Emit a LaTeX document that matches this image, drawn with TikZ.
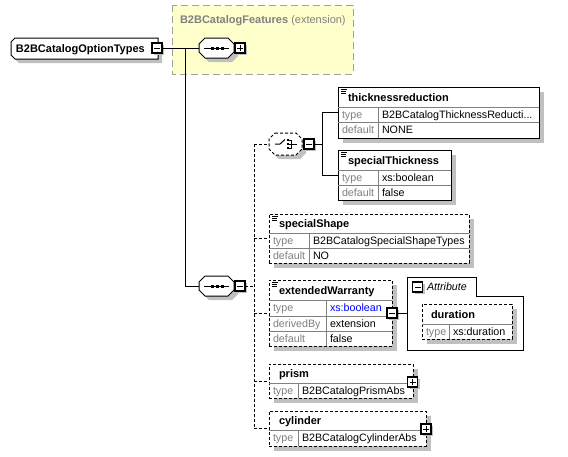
\documentclass[tikz,border=0pt]{standalone}
\usepackage{fontspec}
\setmainfont{Liberation Sans}
\usetikzlibrary{shadows}
\definecolor{shd}{RGB}{192,192,192}
\definecolor{lbl}{RGB}{128,128,128}
\definecolor{yel}{RGB}{255,255,204}
\definecolor{ybord}{RGB}{160,160,160}
\definecolor{xsblue}{RGB}{0,0,255}
% octagonal compositor outline with shadow: x1,y1,x2,y2,chamfer,style
\newcommand\octshape[6]{%
  \fill[shd,shift={(4,4)}] ({#1+#5},#2) -- ({#3-#5},#2) -- (#3,{#2+#5}) -- (#3,{#4-#5}) -- ({#3-#5},#4) -- ({#1+#5},#4) -- (#1,{#4-#5}) -- (#1,{#2+#5}) -- cycle;
  \draw[fill=white,line width=1pt,#6] ({#1+#5},#2) -- ({#3-#5},#2) -- (#3,{#2+#5}) -- (#3,{#4-#5}) -- ({#3-#5},#4) -- ({#1+#5},#4) -- (#1,{#4-#5}) -- (#1,{#2+#5}) -- cycle;}
% documentation icon at x,y
\newcommand\docicon[2]{%
  \draw[line width=0.8pt] (#1,{#2+1}) -- ({#1+6},{#2+1}) (#1,{#2+3}) -- ({#1+5},{#2+3}) (#1,{#2+5}) -- ({#1+5},{#2+5});}
\begin{document}
\begin{tikzpicture}[x=1pt,y=-1pt,
  every node/.style={inner sep=0pt, outer sep=0pt},
  elem/.style={draw=black, line width=1pt, fill=white, anchor=north west,
    drop shadow={shadow xshift=5pt, shadow yshift=-5pt, fill=shd, opacity=1}},
  delem/.style={elem, dash pattern=on 3pt off 2pt},
  ghost/.style={draw=none, fill=none},
  ttl/.style={anchor=west, font=\fontsize{11}{13}\selectfont\bfseries, text height=8pt, text depth=0pt},
  lab/.style={anchor=west, font=\fontsize{10.7}{12}\selectfont, text=lbl, text height=7pt, text depth=0pt},
  val/.style={anchor=west, font=\fontsize{10.7}{12}\selectfont, text height=7pt, text depth=0pt},
  rowline/.style={draw=lbl, line width=1pt},
  conn/.style={draw=black, line width=1pt},
  dconn/.style={conn, dash pattern=on 3pt off 2pt},
  pm/.style={draw=black, line width=1.2pt, fill=white, minimum size=10pt,
    drop shadow={shadow xshift=2pt, shadow yshift=-2pt, fill=shd, opacity=1}},
  minusbox/.style={pm, path picture={\draw[line width=1pt] ([xshift=2pt]path picture bounding box.west) -- ([xshift=-2pt]path picture bounding box.east);}},
  plusbox/.style={pm, path picture={\draw[line width=1pt] ([xshift=2pt]path picture bounding box.west) -- ([xshift=-2pt]path picture bounding box.east) ([yshift=-2pt]path picture bounding box.north) -- ([yshift=2pt]path picture bounding box.south);}}
]
\useasboundingbox (0,0) rectangle (568,456);
\fill[white] (0,0) rectangle (568,456);

% extension base group
\draw[fill=yel, draw=ybord, line width=1pt, dash pattern=on 7pt off 4pt] (172,5) rectangle (353,74);
\node[anchor=west, font=\fontsize{11}{13}\selectfont, text=lbl, text height=8pt, text depth=0pt] (ext) at (180,19) {\textbf{B2BCatalogFeatures} (extension)};

% root element
\fill[shd,shift={(4,4)}] (15,38) -- (158,38) -- (158,59) -- (15,59) -- (11,55) -- (11,42) -- cycle;
\draw[fill=white, line width=1pt] (15,38) -- (158,38) -- (158,59) -- (15,59) -- (11,55) -- (11,42) -- cycle;
\node[ttl] (root) at (16,48.5) {B2BCatalogOptionTypes};
\node[minusbox] (rootpm) at (157,48) {};

% sequence 1 (inherited)
\octshape{199}{38}{234}{58}{6}{}
\node[ghost, minimum width=35pt, minimum height=20pt] (seq1) at (216.5,48) {};
\draw[line width=1pt] (204,48) -- (229,48);
\foreach \q in {212,217,222} \fill (\q-1.5,46.5) rectangle (\q+1.5,49.5);
\node[plusbox] (seq1pm) at (240,48) {};

% sequence 2
\octshape{199}{276}{234}{296}{6}{}
\node[ghost, minimum width=35pt, minimum height=20pt] (seq2) at (216.5,286) {};
\draw[line width=1pt] (204,286) -- (229,286);
\foreach \q in {212,217,222} \fill (\q-1.5,284.5) rectangle (\q+1.5,287.5);
\node[minusbox] (seq2pm) at (240,286) {};

% connectors root
\coordinate (j1) at (185,48);
\draw[conn] (rootpm.east) -- (seq1.west);
\draw[conn] (j1) |- (seq2.west);

% choice
\octshape{269}{133}{302}{155}{6}{dash pattern=on 3pt off 2pt}
\node[ghost, minimum width=33pt, minimum height=22pt] (choice) at (285.5,144) {};
\draw[line width=1pt] (275,144) -- (280,144) -- (285,139.5);
\foreach \q in {140,144,148} \fill (286.5,\q-1.3) rectangle (289,\q+1.3);
\draw[line width=0.9pt] (289,140) -- (291.5,140) -- (291.5,148) -- (289,148) (289,144) -- (297,144);
\node[minusbox] (choicepm) at (309,144) {};

% elements
\node[elem, minimum width=201pt, minimum height=51pt] (thick) at (338,87) {};
\node[elem, minimum width=113pt, minimum height=50pt] (spthick) at (338,150) {};
\node[delem, minimum width=200pt, minimum height=49pt] (spshape) at (269,214) {};
\node[delem, minimum width=123pt, minimum height=66pt] (extw) at (269,280) {};
\node[delem, minimum width=144pt, minimum height=34pt] (prism) at (269,364) {};
\node[delem, minimum width=157pt, minimum height=35pt] (cyl) at (269,411) {};

% choice connectors
\coordinate (cj) at (322,144);
\draw[conn] (choicepm.east) -- (cj);
\draw[conn] (cj) |- (thick.west);
\draw[conn] (cj) |- (spthick.west);

% sequence 2 connectors
\coordinate (bus) at (254,286);
\draw[dconn] (seq2pm.east) -- (bus);
\draw[dconn] (bus |- choice.west) -- (bus |- cyl.west);
\draw[dconn] (bus |- choice.west) -- (choice.west);
\draw[dconn] (bus |- spshape.west) -- (spshape.west);
\draw[dconn] (bus |- extw.west) -- (extw.west);
\draw[dconn] (bus |- prism.west) -- (prism.west);
\draw[dconn] (bus |- cyl.west) -- (cyl.west);

% thicknessreduction
\draw[rowline] (338,107) -- (539,107) (338,122) -- (539,122) (378,107) -- (378,138);
\docicon{341}{88}
\node[ttl] (t1) at (348,97) {thicknessreduction};
\node[lab] (t1a) at (342,114.5) {type};
\node[val] (t1b) at (382,114.5) {B2BCatalogThicknessReducti...};
\node[lab] (t1c) at (342,130) {default};
\node[val] (t1d) at (382,130) {NONE};

% specialThickness
\draw[rowline] (338,170) -- (451,170) (338,185) -- (451,185) (378,170) -- (378,200);
\docicon{341}{151}
\node[ttl] (t2) at (348,160) {specialThickness};
\node[lab] (t2a) at (342,177.5) {type};
\node[val] (t2b) at (382,177.5) {xs:boolean};
\node[lab] (t2c) at (342,192.5) {default};
\node[val] (t2d) at (382,192.5) {false};

% specialShape
\draw[rowline] (269,233) -- (469,233) (269,248) -- (469,248) (309,233) -- (309,263);
\docicon{272}{215}
\node[ttl] (t3) at (279,223.5) {specialShape};
\node[lab] (t3a) at (273,240.5) {type};
\node[val] (t3b) at (313,240.5) {B2BCatalogSpecialShapeTypes};
\node[lab] (t3c) at (273,255.5) {default};
\node[val] (t3d) at (313,255.5) {NO};

% extendedWarranty
\draw[rowline] (269,300) -- (392,300) (269,316) -- (392,316) (269,331) -- (392,331) (326,300) -- (326,346);
\docicon{272}{281}
\node[ttl] (t4) at (279,290) {extendedWarranty};
\node[lab] (t4a) at (273,308) {type};
\node[val, text=xsblue] (t4b) at (330,308) {xs:boolean};
\node[lab] (t4c) at (273,323.5) {derivedBy};
\node[val] (t4d) at (330,323.5) {extension};
\node[lab] (t4e) at (273,338.5) {default};
\node[val] (t4f) at (330,338.5) {false};
\node[minusbox] (extwpm) at (392,313) {};

% attribute group
\node[ghost, anchor=north west, minimum width=116pt, minimum height=73pt] (attr) at (407,277) {};
\draw[line width=1pt] (407,350) -- (407,277) -- (476,277) -- (476,296) -- (523,296) -- (523,350) -- cycle;
\node[minusbox, drop shadow={fill=none, opacity=0}] (attrpm) at (417.5,287) {};
\node[anchor=west, font=\fontsize{10.7}{12}\selectfont\itshape, text height=7pt, text depth=0pt] (attrt) at (427,287) {Attribute};
\draw[conn] (extwpm.east) -- (extwpm.east -| attr.west);

% duration
\node[delem, minimum width=90pt, minimum height=35pt] (dur) at (422,304) {};
\draw[rowline] (422,324) -- (512,324) (449,324) -- (449,339);
\node[ttl] (t5) at (431,314) {duration};
\node[lab] (t5a) at (426,331.5) {type};
\node[val] (t5b) at (453,331.5) {xs:duration};

% prism
\draw[rowline] (269,383) -- (413,383) (298,383) -- (298,398);
\node[ttl] (t6) at (279,373.5) {prism};
\node[lab] (t6a) at (273,390.5) {type};
\node[val] (t6b) at (302,390.5) {B2BCatalogPrismAbs};
\node[plusbox] (prismpm) at (412.5,382) {};

% cylinder
\draw[rowline] (269,430) -- (426,430) (298,430) -- (298,446);
\node[ttl] (t7) at (279,420.5) {cylinder};
\node[lab] (t7a) at (273,438) {type};
\node[val] (t7b) at (302,438) {B2BCatalogCylinderAbs};
\node[plusbox] (cylpm) at (426,429) {};
\end{tikzpicture}
\end{document}
